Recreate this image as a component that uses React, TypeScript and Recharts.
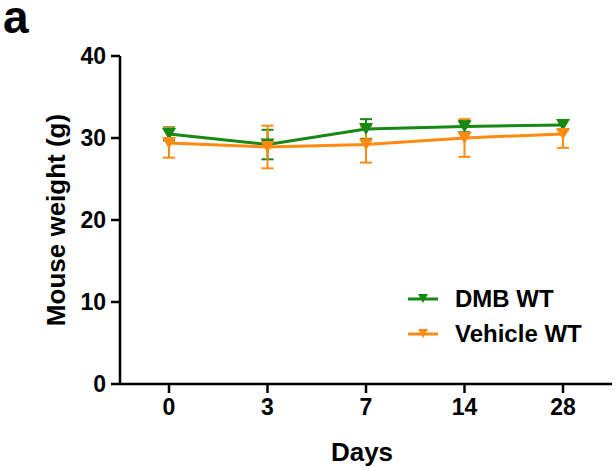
import React from "react";
import { LineChart, Line, XAxis, YAxis, ErrorBar } from "recharts";

const days = ["0", "3", "7", "14", "28"];
const dmbWeight = [30.5, 29.2, 31.1, 31.4, 31.6];
const dmbSd = [0.8, 1.8, 1.2, 0.7, 0.6];
const vehicleWeight = [29.4, 28.9, 29.2, 30.0, 30.5];
const vehicleSd = [1.8, 2.6, 2.2, 2.3, 1.7];
const yTicks = [0, 10, 20, 30, 40];

const GREEN = "#168816";
const ORANGE = "#ff8a12";
const FONT = "'Liberation Sans', Arial, Helvetica, sans-serif";

const data = days.map((d, i) => ({
  day: d,
  dmb: dmbWeight[i],
  dmbErr: dmbSd[i],
  vehicle: vehicleWeight[i],
  vehicleErr: vehicleSd[i],
}));

function triangleDot(color: string) {
  return (props: any) => {
    const { cx, cy, index } = props;
    if (cx == null || cy == null) return null;
    return (
      <path
        key={`t-${color}-${index}`}
        d={`M${cx - 7},${cy - 6} L${cx + 7},${cy - 6} L${cx},${cy + 6} Z`}
        fill={color}
      />
    );
  };
}

const series = [
  { name: "DMB WT", color: GREEN },
  { name: "Vehicle WT", color: ORANGE },
];

function LegendBox() {
  return (
    <div
      style={{
        position: "absolute",
        left: 408,
        top: 281,
        fontFamily: FONT,
        fontWeight: "bold",
        fontSize: 24,
      }}
    >
      {series.map((s) => (
        <div key={s.name} style={{ display: "flex", alignItems: "center", height: 35 }}>
          <svg width={47} height={20}>
            <line x1={0} y1={10} x2={30} y2={10} stroke={s.color} strokeWidth={3} />
            <path d="M10,5 L20,5 L15,14 Z" fill={s.color} />
          </svg>
          <span>{s.name}</span>
        </div>
      ))}
    </div>
  );
}

export default function App() {
  const tick = { fill: "#000", fontSize: 23, fontWeight: "bold", fontFamily: FONT };
  return (
    <div style={{ position: "absolute", left: 0, top: 0, width: 616, height: 468, background: "#fff" }}>
      <svg width={60} height={45} style={{ position: "absolute", left: 0, top: 0 }}>
        <text x={3} y={33} fontFamily={FONT} fontWeight="bold" fontSize={46} fill="#000">
          a
        </text>
      </svg>
      <LineChart
        width={616}
        height={468}
        data={data}
        margin={{ top: 56, right: 4, bottom: 54, left: 10 }}
      >
        <XAxis
          dataKey="day"
          height={30}
          padding={{ left: 49, right: 49 }}
          axisLine={{ stroke: "#000", strokeWidth: 2.5 }}
          tickLine={{ stroke: "#000", strokeWidth: 2.5 }}
          tickSize={9}
          tickMargin={6}
          tick={tick}
          label={{
            content: ({ viewBox }: any) => (
              <text
                x={viewBox.x + viewBox.width / 2 - 4}
                y={452}
                textAnchor="middle"
                dominantBaseline="central"
                fontFamily={FONT}
                fontWeight="bold"
                fontSize={26}
                fill="#000"
              >
                Days
              </text>
            ),
          }}
        />
        <YAxis
          width={110}
          domain={[0, 40]}
          ticks={yTicks}
          interval={0}
          axisLine={{ stroke: "#000", strokeWidth: 2.5 }}
          tickLine={{ stroke: "#000", strokeWidth: 2.5 }}
          tickSize={9}
          tickMargin={5}
          tick={tick}
          label={{
            content: () => (
              <text
                x={56}
                y={220}
                transform="rotate(-90, 56, 220)"
                textAnchor="middle"
                dominantBaseline="central"
                fontFamily={FONT}
                fontWeight="bold"
                fontSize={26}
                fill="#000"
              >
                Mouse weight (g)
              </text>
            ),
          }}
        />
        <Line
          dataKey="dmb"
          name="DMB WT"
          stroke={GREEN}
          strokeWidth={3}
          dot={triangleDot(GREEN)}
          activeDot={false}
          isAnimationActive={false}
        >
          <ErrorBar dataKey="dmbErr" direction="y" width={6} stroke={GREEN} strokeWidth={2} />
        </Line>
        <Line
          dataKey="vehicle"
          name="Vehicle WT"
          stroke={ORANGE}
          strokeWidth={3}
          dot={triangleDot(ORANGE)}
          activeDot={false}
          isAnimationActive={false}
        >
          <ErrorBar dataKey="vehicleErr" direction="y" width={6} stroke={ORANGE} strokeWidth={2} />
        </Line>
      </LineChart>
      <LegendBox />
    </div>
  );
}
